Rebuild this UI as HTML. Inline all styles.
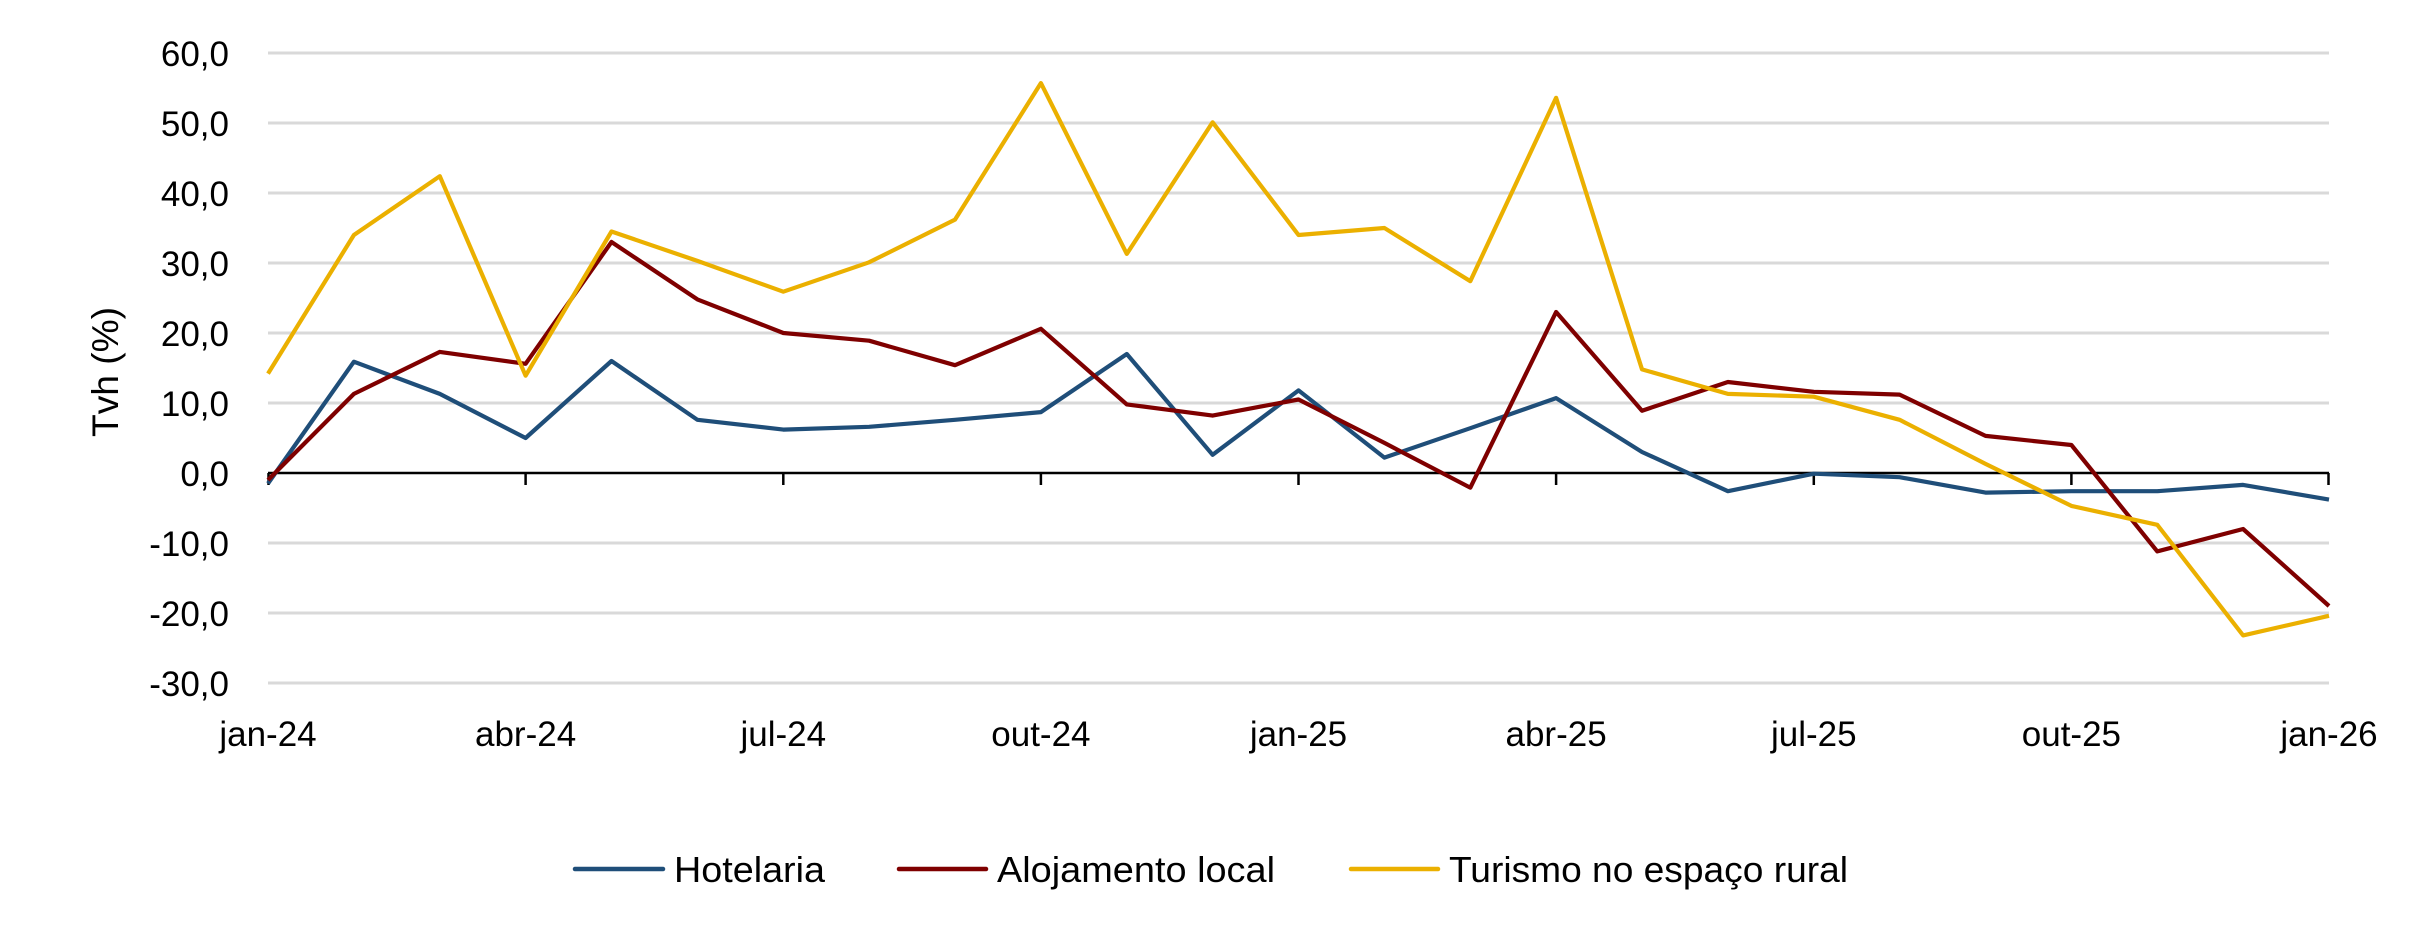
<!DOCTYPE html>
<html><head><meta charset="utf-8"><style>html,body{margin:0;padding:0;background:#fff}</style></head>
<body>
<svg width="2410" height="936" xmlns="http://www.w3.org/2000/svg" font-family="Liberation Sans, sans-serif" font-size="35" fill="#000">
<g stroke="#d9d9d9" stroke-width="3">
<line x1="268" x2="2329" y1="53" y2="53"/>
<line x1="268" x2="2329" y1="123" y2="123"/>
<line x1="268" x2="2329" y1="193" y2="193"/>
<line x1="268" x2="2329" y1="263" y2="263"/>
<line x1="268" x2="2329" y1="333" y2="333"/>
<line x1="268" x2="2329" y1="403" y2="403"/>
<line x1="268" x2="2329" y1="543" y2="543"/>
<line x1="268" x2="2329" y1="613" y2="613"/>
<line x1="268" x2="2329" y1="683" y2="683"/>
</g>
<g stroke="#000" stroke-width="2.5">
<line x1="268" x2="2329" y1="473" y2="473"/>
<line x1="268.5" x2="268.5" y1="473" y2="485"/>
<line x1="525.6" x2="525.6" y1="473" y2="485"/>
<line x1="783.3" x2="783.3" y1="473" y2="485"/>
<line x1="1040.9" x2="1040.9" y1="473" y2="485"/>
<line x1="1298.5" x2="1298.5" y1="473" y2="485"/>
<line x1="1556.1" x2="1556.1" y1="473" y2="485"/>
<line x1="1813.8" x2="1813.8" y1="473" y2="485"/>
<line x1="2071.4" x2="2071.4" y1="473" y2="485"/>
<line x1="2328.5" x2="2328.5" y1="473" y2="485"/>
</g>
<g text-anchor="end">
<text x="229" y="66">60,0</text>
<text x="229" y="136">50,0</text>
<text x="229" y="206">40,0</text>
<text x="229" y="276">30,0</text>
<text x="229" y="346">20,0</text>
<text x="229" y="416">10,0</text>
<text x="229" y="486">0,0</text>
<text x="229" y="556">-10,0</text>
<text x="229" y="626">-20,0</text>
<text x="229" y="696">-30,0</text>
</g>
<g text-anchor="middle">
<text x="268" y="746">jan-24</text>
<text x="525.6" y="746">abr-24</text>
<text x="783.3" y="746">jul-24</text>
<text x="1040.9" y="746">out-24</text>
<text x="1298.5" y="746">jan-25</text>
<text x="1556.1" y="746">abr-25</text>
<text x="1813.8" y="746">jul-25</text>
<text x="2071.4" y="746">out-25</text>
<text x="2329" y="746">jan-26</text>
</g>
<text transform="translate(118,372) rotate(-90)" text-anchor="middle" font-size="37" textLength="130" lengthAdjust="spacingAndGlyphs">Tvh (%)</text>
<g fill="none" stroke-width="4.2" stroke-linejoin="round">
<polyline stroke="#1F4E79" points="268,483.5 353.9,361.7 439.8,393.9 525.6,438 611.5,361 697.4,419.8 783.3,429.6 869.1,426.8 955,419.8 1040.9,412.1 1126.8,354 1212.6,454.8 1298.5,390.4 1384.4,457.6 1470.3,428.2 1556.1,398.1 1642,452 1727.9,491.2 1813.8,473.7 1899.6,477.2 1985.5,492.6 2071.4,491.2 2157.3,491.2 2243.1,484.9 2329,499.6"/>
<polyline stroke="#7F0000" points="268,480 353.9,393.9 439.8,351.9 525.6,363.8 611.5,242 697.4,299.4 783.3,333 869.1,340.7 955,365.2 1040.9,328.8 1126.8,404.4 1212.6,415.6 1298.5,399.5 1384.4,442.9 1470.3,487.7 1556.1,312 1642,410.7 1727.9,382 1813.8,391.8 1899.6,394.6 1985.5,435.9 2071.4,445 2157.3,551.4 2243.1,529 2329,606"/>
<polyline stroke="#EBB000" points="268,373.6 353.9,235 439.8,176.2 525.6,375.7 611.5,231.5 697.4,260.9 783.3,291.7 869.1,262.3 955,219.6 1040.9,83.1 1126.8,253.9 1212.6,122.3 1298.5,235 1384.4,228 1470.3,281.2 1556.1,97.8 1642,369.4 1727.9,393.9 1813.8,396.7 1899.6,419.8 1985.5,463.9 2071.4,505.9 2157.3,524.8 2243.1,635.4 2329,615.8"/>
</g>
<g stroke-width="4.5" stroke-linecap="round">
<line x1="575" x2="663" y1="869" y2="869" stroke="#1F4E79"/>
<line x1="899" x2="986" y1="869" y2="869" stroke="#7F0000"/>
<line x1="1351" x2="1438" y1="869" y2="869" stroke="#EBB000"/>
</g>
<g font-size="36">
<text x="674" y="882" textLength="151" lengthAdjust="spacingAndGlyphs">Hotelaria</text>
<text x="997" y="882" textLength="278" lengthAdjust="spacingAndGlyphs">Alojamento local</text>
<text x="1449" y="882" textLength="399" lengthAdjust="spacingAndGlyphs">Turismo no espaço rural</text>
</g>
</svg>
</body></html>
